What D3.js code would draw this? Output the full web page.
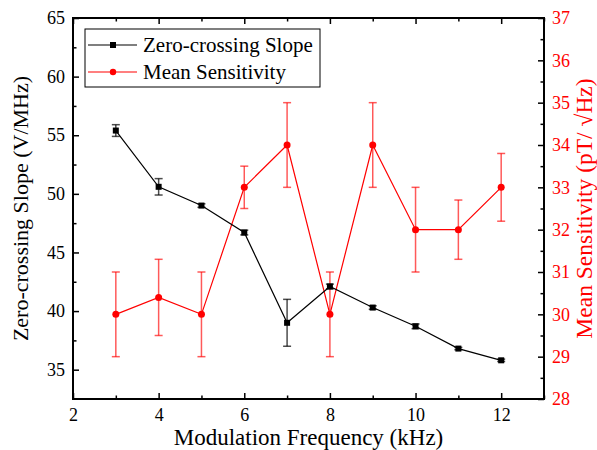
<!DOCTYPE html>
<html>
<head>
<meta charset="utf-8">
<script src="https://cdn.jsdelivr.net/npm/d3@7"></script>
<style>
  body { margin: 0; background: #fff; }
  svg { display: block; }
  svg text { font-family: "Times New Roman", Times, "Liberation Serif", "DejaVu Serif", serif; }
</style>
</head>
<body>
<svg id="chart" width="597" height="450"></svg>
<script>
// Modulation frequency (kHz)
var freq = [3, 4, 5, 6, 7, 8, 9, 10, 11, 12];
// Zero-crossing slope (V/MHz) and its error
var slope = [55.4, 50.6, 49.0, 46.7, 39.0, 42.1, 40.3, 38.7, 36.8, 35.8];
var slopeErr = [0.5, 0.7, 0.15, 0.2, 2.0, 0.2, 0.15, 0.2, 0.1, 0.1];
// Mean sensitivity (pT/sqrt(Hz)) and its error
var sens = [30.0, 30.4, 30.0, 33.0, 34.0, 30.0, 34.0, 32.0, 32.0, 33.0];
var sensErr = [1.0, 0.9, 1.0, 0.5, 1.0, 1.0, 1.0, 1.0, 0.7, 0.8];

var xTicks = [2, 4, 6, 8, 10, 12];
var xMinor = [3, 5, 7, 9, 11, 13];
var leftTicks = [35, 40, 45, 50, 55, 60, 65];
var leftMinor = [37.5, 42.5, 47.5, 52.5, 57.5, 62.5];
var rightTicks = [28, 29, 30, 31, 32, 33, 34, 35, 36, 37];
var rightMinor = [28.5, 29.5, 30.5, 31.5, 32.5, 33.5, 34.5, 35.5, 36.5];

var svg = d3.select("#chart");
var plotL = 73, plotR = 544, plotT = 18, plotB = 399;
var red = "#ff0000";

var x = d3.scaleLinear().domain([2, 13]).range([plotL, plotR]);
var yL = d3.scaleLinear().domain([32.5, 65]).range([plotB, plotT]);
var yR = d3.scaleLinear().domain([28, 37]).range([plotB, plotT]);

// Axes with inward ticks
function addAxis(axis, tx, ty, color) {
  var g = svg.append("g")
    .attr("transform", "translate(" + tx + "," + ty + ")")
    .call(axis)
    .attr("font-family", null)
    .attr("font-size", 18);
  g.select(".domain").remove();
  g.selectAll(".tick line").attr("stroke", "#000").attr("stroke-width", 1.5);
  g.selectAll(".tick text").attr("fill", color || "#000");
  return g;
}

addAxis(d3.axisBottom(x).tickValues(xTicks).tickSize(-6).tickPadding(9).tickFormat(d3.format("d")), 0, plotB);
addAxis(d3.axisBottom(x).tickValues(xMinor).tickSize(-3.5).tickFormat(""), 0, plotB);
addAxis(d3.axisTop(x).tickValues(xTicks).tickSize(-6).tickFormat(""), 0, plotT);
addAxis(d3.axisTop(x).tickValues(xMinor).tickSize(-3.5).tickFormat(""), 0, plotT);
addAxis(d3.axisLeft(yL).tickValues(leftTicks).tickSize(-6).tickPadding(8).tickFormat(d3.format("d")), plotL, 0);
addAxis(d3.axisLeft(yL).tickValues(leftMinor).tickSize(-3.5).tickFormat(""), plotL, 0);
addAxis(d3.axisRight(yR).tickValues(rightTicks).tickSize(-6).tickPadding(8).tickFormat(d3.format("d")), plotR, 0, red);
addAxis(d3.axisRight(yR).tickValues(rightMinor).tickSize(-3.5).tickFormat(""), plotR, 0);

svg.append("rect")
  .attr("x", plotL).attr("y", plotT)
  .attr("width", plotR - plotL).attr("height", plotB - plotT)
  .attr("fill", "none").attr("stroke", "#000").attr("stroke-width", 2);

// Draw one series with error bars
function drawSeries(vals, errs, y, color, errColor, marker) {
  var data = freq.map(function(f, i) { return { x: f, y: vals[i], e: errs[i] }; });
  var g = svg.append("g");
  var cap = 4;

  var eb = g.selectAll(".err").data(data).enter().append("g")
    .attr("stroke", errColor).attr("stroke-width", 1.5);
  eb.append("line")
    .attr("x1", function(d) { return x(d.x); }).attr("x2", function(d) { return x(d.x); })
    .attr("y1", function(d) { return y(d.y - d.e); }).attr("y2", function(d) { return y(d.y + d.e); });
  eb.append("line")
    .attr("x1", function(d) { return x(d.x) - cap; }).attr("x2", function(d) { return x(d.x) + cap; })
    .attr("y1", function(d) { return y(d.y + d.e); }).attr("y2", function(d) { return y(d.y + d.e); });
  eb.append("line")
    .attr("x1", function(d) { return x(d.x) - cap; }).attr("x2", function(d) { return x(d.x) + cap; })
    .attr("y1", function(d) { return y(d.y - d.e); }).attr("y2", function(d) { return y(d.y - d.e); });

  var line = d3.line().x(function(d) { return x(d.x); }).y(function(d) { return y(d.y); });
  g.append("path").datum(data)
    .attr("d", line).attr("fill", "none")
    .attr("stroke", color).attr("stroke-width", 1.2);

  if (marker == "square") {
    g.selectAll(".pt").data(data).enter().append("rect")
      .attr("x", function(d) { return x(d.x) - 3; })
      .attr("y", function(d) { return y(d.y) - 3; })
      .attr("width", 6).attr("height", 6).attr("fill", color);
  } else {
    g.selectAll(".pt").data(data).enter().append("circle")
      .attr("cx", function(d) { return x(d.x); })
      .attr("cy", function(d) { return y(d.y); })
      .attr("r", 3.5).attr("fill", color);
  }
}

drawSeries(sens, sensErr, yR, red, "rgba(255,0,0,0.65)", "circle");
drawSeries(slope, slopeErr, yL, "#000", "rgba(0,0,0,0.7)", "square");

// Legend
var legend = svg.append("g");
legend.append("rect")
  .attr("x", 85).attr("y", 29).attr("width", 235).attr("height", 58)
  .attr("fill", "#fff").attr("stroke", "#000").attr("stroke-width", 1);
var legItems = [
  { label: "Zero-crossing Slope", color: "#000", marker: "square", y: 45 },
  { label: "Mean Sensitivity", color: red, marker: "circle", y: 72 }
];
legItems.forEach(function(d) {
  legend.append("line")
    .attr("x1", 88).attr("x2", 137).attr("y1", d.y).attr("y2", d.y)
    .attr("stroke", d.color).attr("stroke-width", 1.2);
  if (d.marker == "square") {
    legend.append("rect").attr("x", 110).attr("y", d.y - 3).attr("width", 6).attr("height", 6).attr("fill", d.color);
  } else {
    legend.append("circle").attr("cx", 113).attr("cy", d.y).attr("r", 3.2).attr("fill", d.color);
  }
  legend.append("text")
    .attr("x", 143).attr("y", d.y + 7)
    .attr("font-size", 21).attr("fill", "#000")
    .text(d.label);
});

// Axis titles
svg.append("text")
  .attr("x", (plotL + plotR) / 2).attr("y", 445)
  .attr("text-anchor", "middle").attr("font-size", 23)
  .text("Modulation Frequency (kHz)");

svg.append("text")
  .attr("transform", "translate(28," + ((plotT + plotB) / 2) + ") rotate(-90)")
  .attr("text-anchor", "middle").attr("font-size", 22)
  .text("Zero-crossing Slope (V/MHz)");

svg.append("text")
  .attr("transform", "translate(592," + ((plotT + plotB) / 2) + ") rotate(-90)")
  .attr("text-anchor", "middle").attr("font-size", 23.5).attr("fill", red)
  .text("Mean Sensitivity (pT/ \u221AHz)");
</script>
</body>
</html>
